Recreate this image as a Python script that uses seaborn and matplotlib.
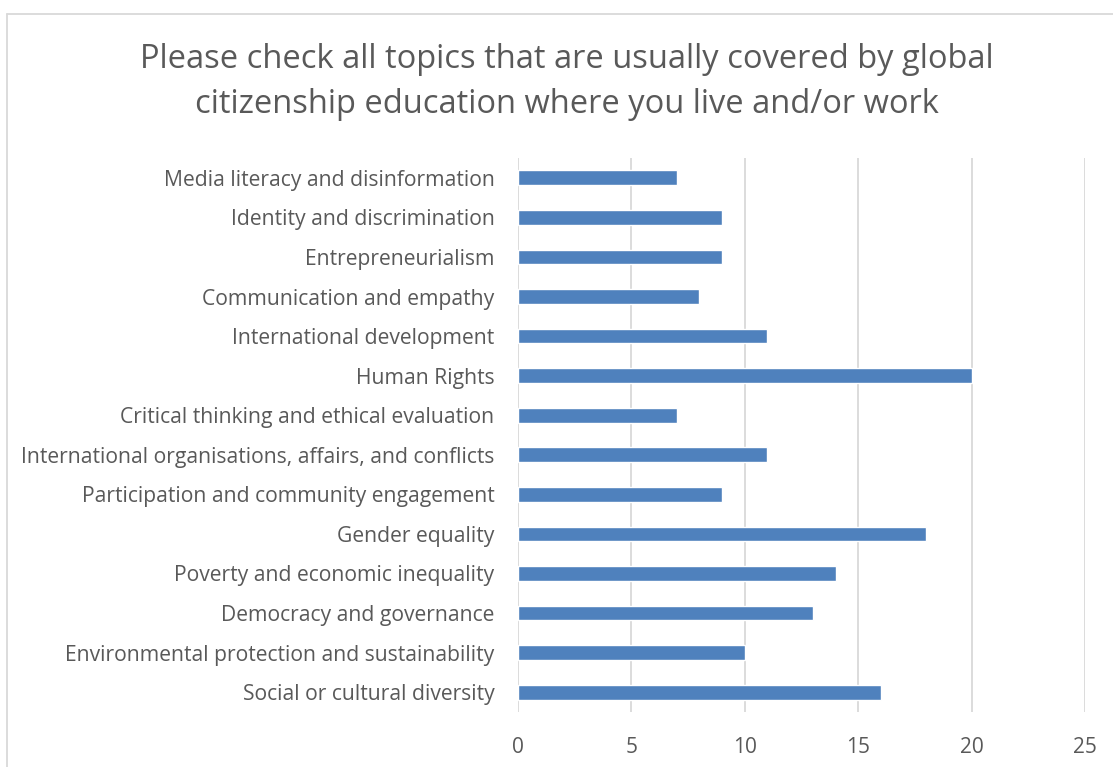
import matplotlib
matplotlib.use("Agg")
import matplotlib.pyplot as plt
from matplotlib.lines import Line2D
import seaborn as sns
import pandas as pd

topics = [
    "Media literacy and disinformation",
    "Identity and discrimination",
    "Entrepreneurialism",
    "Communication and empathy",
    "International development",
    "Human Rights",
    "Critical thinking and ethical evaluation",
    "International organisations, affairs, and conflicts",
    "Participation and community engagement",
    "Gender equality",
    "Poverty and economic inequality",
    "Democracy and governance",
    "Environmental protection and sustainability",
    "Social or cultural diversity",
]
counts = [7, 9, 9, 8, 11, 20, 7, 11, 9, 18, 14, 13, 10, 16]
x_ticks = [0, 5, 10, 15, 20, 25]

title = ("Please check all topics that are usually covered by global\n"
         "citizenship education where you live and/or work")

sns.set_theme(style="white")
plt.rcParams["font.family"] = ["Open Sans", "DejaVu Sans"]

text_color = "#595959"
grid_color = "#D9D9D9"
bar_color = "#4F81BD"

df = pd.DataFrame({"topic": topics, "count": counts})

W, H = 1113, 767
fig = plt.figure(figsize=(W / 100, H / 100), dpi=100)
ax = fig.add_axes([518 / W, 1 - 712 / H, (1085 - 518) / W, (712 - 158) / H])

sns.barplot(data=df, x="count", y="topic", order=topics, color=bar_color,
            width=0.37, saturation=1, ax=ax, zorder=3)

ax.set_xlim(0, 25)
ax.set_ylim(len(topics) - 0.5, -0.5)
ax.set_xticks(x_ticks)
ax.set_xticklabels([str(t) for t in x_ticks])
ax.xaxis.grid(True, color=grid_color, linewidth=1.3, zorder=0)
ax.yaxis.grid(False)
for s in ax.spines.values():
    s.set_visible(False)
ax.set_xlabel("")
ax.set_ylabel("")
ax.tick_params(axis="x", colors=text_color, labelsize=15, length=0, pad=18)
ax.tick_params(axis="y", colors=text_color, labelsize=15.2, length=0, pad=17)

fig.text(567 / W, 1 - 82 / H, title, ha="center", va="center",
         fontsize=23.5, color=text_color, linespacing=1.5)

# chart frame
fig.add_artist(Line2D([7 / W, 1], [1 - 14 / H, 1 - 14 / H], color=grid_color,
                      linewidth=1.3, transform=fig.transFigure))
fig.add_artist(Line2D([7 / W, 7 / W], [0, 1 - 14 / H], color=grid_color,
                      linewidth=1.3, transform=fig.transFigure))

fig.savefig("out.png", dpi=100, facecolor="white")
